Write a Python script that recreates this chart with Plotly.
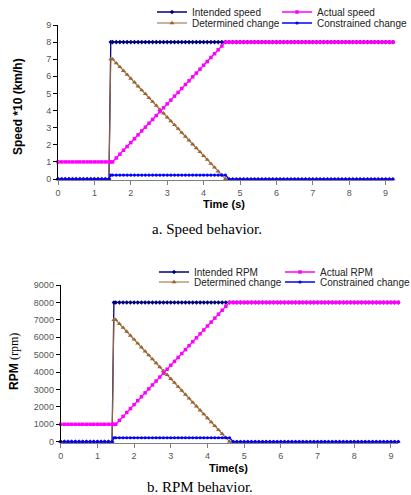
import plotly.graph_objects as go

# ---------------- data ----------------
time_s = [
    0.0, 0.1, 0.2, 0.3, 0.4, 0.5, 0.6, 0.7, 0.8, 0.9, 1.0, 1.1, 1.2, 1.3, 1.4, 1.45,
    1.5, 1.6, 1.7, 1.8, 1.9, 2.0, 2.1, 2.2, 2.3, 2.4, 2.5, 2.6, 2.7, 2.8, 2.9, 3.0,
    3.1, 3.2, 3.3, 3.4, 3.5, 3.6, 3.7, 3.8, 3.9, 4.0, 4.1, 4.2, 4.3, 4.4, 4.5, 4.6,
    4.7, 4.8, 4.9, 5.0, 5.1, 5.2, 5.3, 5.4, 5.5, 5.6, 5.7, 5.8, 5.9, 6.0, 6.1, 6.2,
    6.3, 6.4, 6.5, 6.6, 6.7, 6.8, 6.9, 7.0, 7.1, 7.2, 7.3, 7.4, 7.5, 7.6, 7.7, 7.8,
    7.9, 8.0, 8.1, 8.2, 8.3, 8.4, 8.5, 8.6, 8.7, 8.8, 8.9, 9.0, 9.1, 9.2,
]

intended_speed = [
    0, 0, 0, 0, 0, 0, 0, 0, 0, 0, 0, 0, 0, 0, 0, 8,
    8, 8, 8, 8, 8, 8, 8, 8, 8, 8, 8, 8, 8, 8, 8, 8,
    8, 8, 8, 8, 8, 8, 8, 8, 8, 8, 8, 8, 8, 8, 8, 8,
    8, 8, 8, 8, 8, 8, 8, 8, 8, 8, 8, 8, 8, 8, 8, 8,
    8, 8, 8, 8, 8, 8, 8, 8, 8, 8, 8, 8, 8, 8, 8, 8,
    8, 8, 8, 8, 8, 8, 8, 8, 8, 8, 8, 8, 8, 8,
]
actual_speed = [
    1, 1, 1, 1, 1, 1, 1, 1, 1, 1, 1, 1, 1, 1, 1, 1,
    1.00, 1.23, 1.45, 1.68, 1.90, 2.13, 2.35, 2.58, 2.81, 3.03, 3.26, 3.48, 3.71, 3.94, 4.16, 4.39,
    4.61, 4.84, 5.06, 5.29, 5.52, 5.74, 5.97, 6.19, 6.42, 6.65, 6.87, 7.10, 7.32, 7.55, 7.77, 8.00,
    8, 8, 8, 8, 8, 8, 8, 8, 8, 8, 8, 8, 8, 8, 8, 8,
    8, 8, 8, 8, 8, 8, 8, 8, 8, 8, 8, 8, 8, 8, 8, 8,
    8, 8, 8, 8, 8, 8, 8, 8, 8, 8, 8, 8, 8, 8,
]
determined_speed = [
    0, 0, 0, 0, 0, 0, 0, 0, 0, 0, 0, 0, 0, 0, 0, 7.0,
    7.00, 6.77, 6.55, 6.32, 6.10, 5.87, 5.65, 5.42, 5.19, 4.97, 4.74, 4.52, 4.29, 4.06, 3.84, 3.61,
    3.39, 3.16, 2.94, 2.71, 2.48, 2.26, 2.03, 1.81, 1.58, 1.35, 1.13, 0.90, 0.68, 0.45, 0.23, 0.00,
    0, 0, 0, 0, 0, 0, 0, 0, 0, 0, 0, 0, 0, 0, 0, 0,
    0, 0, 0, 0, 0, 0, 0, 0, 0, 0, 0, 0, 0, 0, 0, 0,
    0, 0, 0, 0, 0, 0, 0, 0, 0, 0, 0, 0, 0, 0,
]
constrained_speed = [
    0, 0, 0, 0, 0, 0, 0, 0, 0, 0, 0, 0, 0, 0, 0, 0.23,
    0.23, 0.23, 0.23, 0.23, 0.23, 0.23, 0.23, 0.23, 0.23, 0.23, 0.23, 0.23, 0.23, 0.23, 0.23, 0.23,
    0.23, 0.23, 0.23, 0.23, 0.23, 0.23, 0.23, 0.23, 0.23, 0.23, 0.23, 0.23, 0.23, 0.23, 0.23, 0.23,
    0, 0, 0, 0, 0, 0, 0, 0, 0, 0, 0, 0, 0, 0, 0, 0,
    0, 0, 0, 0, 0, 0, 0, 0, 0, 0, 0, 0, 0, 0, 0, 0,
    0, 0, 0, 0, 0, 0, 0, 0, 0, 0, 0, 0, 0, 0,
]

intended_rpm = [
    0, 0, 0, 0, 0, 0, 0, 0, 0, 0, 0, 0, 0, 0, 0, 8000,
    8000, 8000, 8000, 8000, 8000, 8000, 8000, 8000, 8000, 8000, 8000, 8000, 8000, 8000, 8000, 8000,
    8000, 8000, 8000, 8000, 8000, 8000, 8000, 8000, 8000, 8000, 8000, 8000, 8000, 8000, 8000, 8000,
    8000, 8000, 8000, 8000, 8000, 8000, 8000, 8000, 8000, 8000, 8000, 8000, 8000, 8000, 8000, 8000,
    8000, 8000, 8000, 8000, 8000, 8000, 8000, 8000, 8000, 8000, 8000, 8000, 8000, 8000, 8000, 8000,
    8000, 8000, 8000, 8000, 8000, 8000, 8000, 8000, 8000, 8000, 8000, 8000, 8000, 8000,
]
actual_rpm = [
    1000, 1000, 1000, 1000, 1000, 1000, 1000, 1000, 1000, 1000, 1000, 1000, 1000, 1000, 1000, 1000,
    1000, 1226, 1452, 1677, 1903, 2129, 2355, 2581, 2806, 3032, 3258, 3484, 3710, 3935, 4161, 4387,
    4613, 4839, 5065, 5290, 5516, 5742, 5968, 6194, 6419, 6645, 6871, 7097, 7323, 7548, 7774, 8000,
    8000, 8000, 8000, 8000, 8000, 8000, 8000, 8000, 8000, 8000, 8000, 8000, 8000, 8000, 8000, 8000,
    8000, 8000, 8000, 8000, 8000, 8000, 8000, 8000, 8000, 8000, 8000, 8000, 8000, 8000, 8000, 8000,
    8000, 8000, 8000, 8000, 8000, 8000, 8000, 8000, 8000, 8000, 8000, 8000, 8000, 8000,
]
determined_rpm = [
    0, 0, 0, 0, 0, 0, 0, 0, 0, 0, 0, 0, 0, 0, 0, 7000,
    7000, 6774, 6548, 6323, 6097, 5871, 5645, 5419, 5194, 4968, 4742, 4516, 4290, 4065, 3839, 3613,
    3387, 3161, 2935, 2710, 2484, 2258, 2032, 1806, 1581, 1355, 1129, 903, 677, 452, 226, 0,
    0, 0, 0, 0, 0, 0, 0, 0, 0, 0, 0, 0, 0, 0, 0, 0,
    0, 0, 0, 0, 0, 0, 0, 0, 0, 0, 0, 0, 0, 0, 0, 0,
    0, 0, 0, 0, 0, 0, 0, 0, 0, 0, 0, 0, 0, 0,
]
constrained_rpm = [
    0, 0, 0, 0, 0, 0, 0, 0, 0, 0, 0, 0, 0, 0, 0, 226,
    226, 226, 226, 226, 226, 226, 226, 226, 226, 226, 226, 226, 226, 226, 226, 226,
    226, 226, 226, 226, 226, 226, 226, 226, 226, 226, 226, 226, 226, 226, 226, 226,
    0, 0, 0, 0, 0, 0, 0, 0, 0, 0, 0, 0, 0, 0, 0, 0,
    0, 0, 0, 0, 0, 0, 0, 0, 0, 0, 0, 0, 0, 0, 0, 0,
    0, 0, 0, 0, 0, 0, 0, 0, 0, 0, 0, 0, 0, 0,
]

x_ticks = [0, 1, 2, 3, 4, 5, 6, 7, 8, 9]
speed_ticks = [0, 1, 2, 3, 4, 5, 6, 7, 8, 9]
rpm_ticks = [0, 1000, 2000, 3000, 4000, 5000, 6000, 7000, 8000, 9000]

speed_names = ["Intended speed", "Actual speed", "Determined change", "Constrained change"]
rpm_names = ["Intended RPM", "Actual RPM", "Determined change", "Constrained change"]

# ---------------- styles ----------------
W, H = 411, 495
SANS = "Liberation Sans, Arial, sans-serif"
SERIF = "Liberation Serif, Times New Roman, serif"

NAVY = "#000080"
MAGENTA = "#FF00FF"
BROWN = "#996633"
BLUE = "#0000FF"

styles = {
    "intended": dict(color=NAVY, symbol="diamond", size=3.5, width=1.3),
    "actual": dict(color=MAGENTA, symbol="square", size=3.5, width=1.3),
    "determined": dict(color=BROWN, symbol="triangle-up", size=4.5, width=1.1),
    "constrained": dict(color=BLUE, symbol="circle", size=3.2, width=1.3),
}


def px_x(p):
    return p / W


def px_y(p):
    return 1 - p / H


fig = go.Figure()

panels = [
    ("x", "y", speed_names,
     [intended_speed, actual_speed, determined_speed, constrained_speed],
     ["legend2", "legend3", "legend4", "legend5"]),
    ("x2", "y2", rpm_names,
     [intended_rpm, actual_rpm, determined_rpm, constrained_rpm],
     ["legend6", "legend7", "legend8", "legend9"]),
]
keys = ["intended", "actual", "determined", "constrained"]
draw_order = [0, 2, 1, 3]

for xa, ya, names, series, legs in panels:
    for i in draw_order:
        st = styles[keys[i]]
        fig.add_trace(go.Scatter(
            x=time_s, y=series[i], name=names[i], mode="lines+markers",
            xaxis=xa, yaxis=ya, legend=legs[i], cliponaxis=False,
            line=dict(color=st["color"], width=st["width"]),
            marker=dict(color=st["color"], symbol=st["symbol"], size=st["size"],
                        line=dict(width=0)),
        ))

tickfont = dict(family=SANS, size=9, color="#555555")

common_x = dict(range=[0, 9.2], tickvals=x_ticks, ticks="outside", ticklen=4,
                tickcolor="#808080", showline=True, linecolor="#808080", linewidth=1,
                showgrid=False, zeroline=False, tickfont=tickfont, fixedrange=True)
common_y = dict(ticks="outside", ticklen=4, tickcolor="#000000", showline=True,
                linecolor="#000000", linewidth=1, showgrid=False, zeroline=False,
                tickfont=tickfont, fixedrange=True)

fig.update_layout(
    width=W, height=H, margin=dict(l=0, r=0, t=0, b=0, autoexpand=False),
    paper_bgcolor="white", plot_bgcolor="white", showlegend=True,
    font=dict(family=SANS, size=10, color="#222222"),
    xaxis=dict(common_x, domain=[px_x(58), px_x(392.9)], anchor="y"),
    yaxis=dict(common_y, domain=[px_y(180.4), px_y(25)], range=[-0.08, 9],
               tickvals=speed_ticks, anchor="x"),
    xaxis2=dict(common_x, domain=[px_x(60.7), px_x(398.3)], anchor="y2"),
    yaxis2=dict(common_y, domain=[px_y(443.1), px_y(285)], range=[-80, 9000],
                tickvals=rpm_ticks, anchor="x2"),
)

# legends: one entry each, placed like the two-column legend of the original
legend_pos = {
    "legend2": (152, 12), "legend3": (277, 12), "legend4": (152, 23), "legend5": (277, 23),
    "legend6": (154, 272), "legend7": (280, 272), "legend8": (154, 282), "legend9": (280, 282),
}
for lid, (lx, ly) in legend_pos.items():
    fig.update_layout({lid: dict(
        x=px_x(lx), y=px_y(ly), xanchor="left", yanchor="middle",
        bgcolor="rgba(0,0,0,0)", borderwidth=0, itemwidth=30,
        font=dict(family=SANS, size=10, color="#222222"),
        orientation="v", tracegroupgap=0,
    )})

annotations = [
    dict(text="<b>Speed *10 (km/h)</b>", x=px_x(18), y=px_y(107), textangle=-90,
         font=dict(family=SANS, size=12, color="#000000")),
    dict(text="<b>Time (s)</b>", x=px_x(224), y=px_y(204),
         font=dict(family=SANS, size=11, color="#000000")),
    dict(text="a. Speed behavior.", x=px_x(207), y=px_y(229),
         font=dict(family=SERIF, size=15, color="#000000")),
    dict(text="<b>RPM</b> <span style=\"font-family:'Liberation Serif', serif; font-weight:normal\">(rpm)</span>",
         x=px_x(14), y=px_y(362), textangle=-90,
         font=dict(family=SANS, size=12, color="#000000")),
    dict(text="<b>Time(s)</b>", x=px_x(228), y=px_y(468),
         font=dict(family=SANS, size=11, color="#000000")),
    dict(text="b. RPM behavior.", x=px_x(200), y=px_y(487),
         font=dict(family=SERIF, size=15, color="#000000")),
]
for a in annotations:
    a.update(xref="paper", yref="paper", showarrow=False, xanchor="center", yanchor="middle")
fig.update_layout(annotations=annotations)

fig.write_html("out.html")
